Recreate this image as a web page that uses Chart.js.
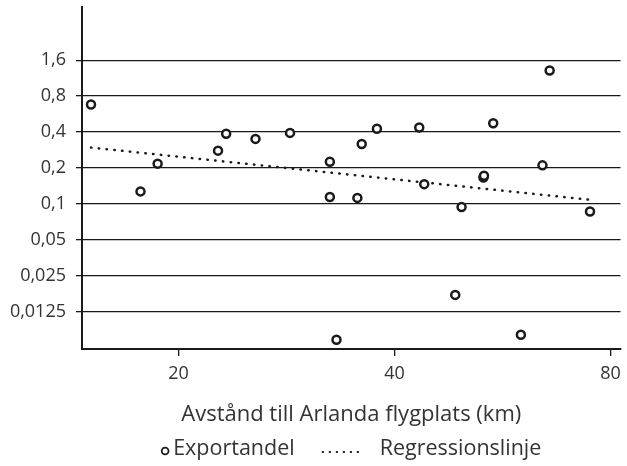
<!DOCTYPE html>
<html>
<head>
<meta charset="utf-8">
<script src="https://cdn.jsdelivr.net/npm/chart.js@4"></script>
<style>body{margin:0;background:#fff}</style>
</head>
<body>
<canvas id="chart" width="627" height="466"></canvas>
<script>
// avstånd till Arlanda (km) och exportandel
const distance = [15.1, 17.7, 18.7, 22.7, 23.3, 25.6, 28.6, 32.5, 32.5, 33.2, 35.5, 36.0, 37.8,
                  43.3, 44.0, 48.6, 49.6, 53.2, 53.3, 54.9, 60.0, 64.3, 65.8, 74.9];
const exportShare = [0.68, 0.127, 0.217, 0.279, 0.386, 0.35, 0.393, 0.225, 0.114, 0.00724, 0.112, 0.317, 0.425,
                     0.436, 0.146, 0.0172, 0.094, 0.166, 0.172, 0.473, 0.00797, 0.21, 1.31, 0.086];

// regressionslinjens ändpunkter
const regDistance = [15.1, 74.9];
const regShare = [0.296, 0.108];

const yTicks = [0.0125, 0.025, 0.05, 0.1, 0.2, 0.4, 0.8, 1.6];
const xTicks = [20, 40, 80];
const xTitle = 'Avstånd till Arlanda flygplats (km)';
const legendLabels = ['Exportandel', 'Regressionslinje'];

const font = "'Open Sans', sans-serif";
const ink = '#1a1a1a';

// egen legend under axeltiteln
const bottomLegend = {
    id: 'bottomLegend',
    afterDraw(chart) {
        const {ctx, chartArea} = chart;
        ctx.save();
        ctx.font = '21.5px ' + font;
        ctx.fillStyle = '#333';
        ctx.textBaseline = 'middle';
        const w1 = ctx.measureText(legendLabels[0]).width;
        const w2 = ctx.measureText(legendLabels[1]).width;
        const total = 8 + 4 + w1 + 28 + 36 + 21 + w2;
        let x = (chartArea.left + chartArea.right) / 2 - total / 2;
        const y = 449;
        // cirkel
        ctx.beginPath();
        ctx.arc(x + 4, y + 2, 3.4, 0, Math.PI * 2);
        ctx.lineWidth = 1.8;
        ctx.strokeStyle = ink;
        ctx.stroke();
        x += 12;
        ctx.fillText(legendLabels[0], x, y);
        x += w1 + 28;
        // prickad linje
        ctx.beginPath();
        ctx.setLineDash([0.5, 6.5]);
        ctx.lineCap = 'round';
        ctx.lineWidth = 2;
        ctx.moveTo(x, y + 3);
        ctx.lineTo(x + 36, y + 3);
        ctx.stroke();
        ctx.setLineDash([]);
        x += 36 + 21;
        ctx.fillText(legendLabels[1], x, y);
        ctx.restore();
    }
};

new Chart(document.getElementById('chart'), {
    type: 'scatter',
    data: {
        datasets: [{
            label: legendLabels[0],
            data: distance.map((d, i) => ({x: d, y: exportShare[i]})),
            pointStyle: 'circle',
            pointRadius: 4,
            pointBorderWidth: 2.5,
            borderColor: ink,
            backgroundColor: '#fff'
        }, {
            type: 'line',
            label: legendLabels[1],
            data: regDistance.map((d, i) => ({x: d, y: regShare[i]})),
            borderColor: ink,
            borderWidth: 2.5,
            borderDash: [0.5, 7.3],
            borderCapStyle: 'round',
            pointRadius: 0,
            fill: false
        }]
    },
    options: {
        responsive: false,
        animation: false,
        layout: {padding: {top: 7, right: 4, left: 0, bottom: 0}},
        plugins: {
            legend: {display: false},
            tooltip: {enabled: false}
        },
        scales: {
            x: {
                type: 'logarithmic',
                min: 14.67,
                max: 82.6,
                afterBuildTicks: s => { s.ticks = xTicks.map(v => ({value: v})); },
                afterFit: s => { s.height = 117; s.paddingLeft = 0; s.paddingRight = 0; },
                ticks: {
                    callback: v => String(v),
                    font: {family: font, size: 18},
                    color: '#333',
                    padding: 7,
                    maxRotation: 0
                },
                grid: {drawOnChartArea: false, tickLength: 7, color: ink, lineWidth: 1.3},
                border: {color: ink, width: 2},
                title: {
                    display: true,
                    text: xTitle,
                    font: {family: font, size: 22},
                    color: '#333',
                    padding: {top: 0, bottom: 38}
                }
            },
            y: {
                type: 'logarithmic',
                min: 0.00605,
                max: 4.47,
                afterBuildTicks: s => { s.ticks = yTicks.map(v => ({value: v})); },
                afterFit: s => { s.width = 82; s.paddingTop = 0; s.paddingBottom = 0; },
                ticks: {
                    callback: v => String(v).replace('.', ','),
                    font: {family: font, size: 18},
                    color: '#333',
                    padding: 10
                },
                grid: {color: ink, lineWidth: 1.3, tickLength: 6},
                border: {color: ink, width: 2}
            }
        }
    },
    plugins: [bottomLegend]
});
</script>
</body>
</html>
